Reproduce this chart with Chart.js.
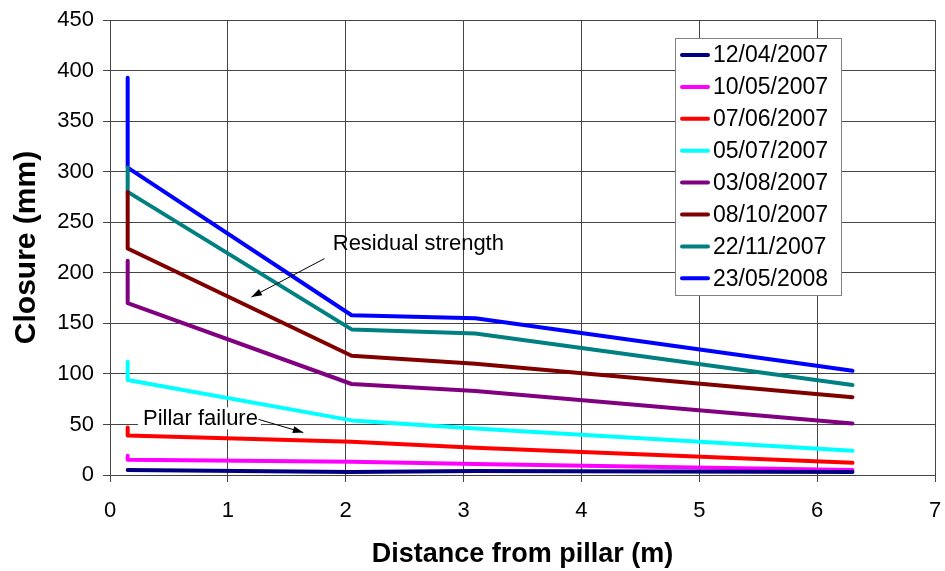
<!DOCTYPE html>
<html>
<head>
<meta charset="utf-8">
<script src="https://cdn.jsdelivr.net/npm/chart.js@4.4.1/dist/chart.umd.min.js"></script>
<style>
  html, body { margin: 0; padding: 0; background: #fff; }
  #wrap { width: 945px; height: 571px; position: relative; }
</style>
</head>
<body>
<div id="wrap"><canvas id="myChart" width="945" height="571"></canvas></div>
<script>
// Data
const distances = [0.15, 0.15, 2.05, 3.1, 6.3];
const dates = ["12/04/2007", "10/05/2007", "07/06/2007", "05/07/2007",
               "03/08/2007", "08/10/2007", "22/11/2007", "23/05/2008"];
const closure_12_04_2007 = [5, 5, 3, 4, 3];
const closure_10_05_2007 = [19, 15, 13, 11, 5];
const closure_07_06_2007 = [47, 39, 33, 27, 12];
const closure_05_07_2007 = [112, 94, 54, 46, 24];
const closure_03_08_2007 = [212, 170, 90, 83, 51];
const closure_08_10_2007 = [280, 224, 118, 110, 77];
const closure_22_11_2007 = [304, 280, 144, 140, 89];
const closure_23_05_2008 = [393, 304, 158, 155, 103];
const xTicks = [0, 1, 2, 3, 4, 5, 6, 7];
const yTicks = [0, 50, 100, 150, 200, 250, 300, 350, 400, 450];

const series = [closure_12_04_2007, closure_10_05_2007, closure_07_06_2007, closure_05_07_2007,
                closure_03_08_2007, closure_08_10_2007, closure_22_11_2007, closure_23_05_2008];
const colors = ["#000080", "#FF00FF", "#FF0000", "#00FFFF",
                "#800080", "#800000", "#008080", "#0000FF"];

const FONT = "'Liberation Sans', Arial, sans-serif";

// Legend drawn inside the plot, like the original
const boxLegend = {
    id: "boxLegend",
    afterDraw(chart) {
        const ctx = chart.ctx;
        const left = 675, top = 38, w = 166, h = 257;
        ctx.save();
        ctx.fillStyle = "#fff";
        ctx.fillRect(left, top, w, h);
        ctx.strokeStyle = "#808080";
        ctx.lineWidth = 1;
        ctx.strokeRect(left + 0.5, top + 0.5, w, h);
        ctx.font = "23px " + FONT;
        ctx.textBaseline = "middle";
        chart.data.datasets.forEach((ds, i) => {
            const y = top + 17 + i * 31.9;
            ctx.strokeStyle = ds.borderColor;
            ctx.lineWidth = 4;
            ctx.lineCap = "round";
            ctx.beginPath();
            ctx.moveTo(left + 7, y);
            ctx.lineTo(left + 33, y);
            ctx.stroke();
            ctx.fillStyle = "#000";
            ctx.fillText(ds.label, left + 38, y + 1);
        });
        ctx.restore();
    }
};

// Text notes with arrows (positions in data units)
const notes = [
    { text: "Residual strength", tx: 1.89, ty: 229, from: [1.82, 214], to: [1.2, 176], bg: false },
    { text: "Pillar failure", tx: 0.28, ty: 55, from: [1.26, 55], to: [1.64, 42], bg: true }
];

function arrow(ctx, x1, y1, x2, y2) {
    ctx.beginPath();
    ctx.moveTo(x1, y1);
    ctx.lineTo(x2, y2);
    ctx.stroke();
    const a = Math.atan2(y2 - y1, x2 - x1);
    const len = 11, spread = 0.33;
    ctx.beginPath();
    ctx.moveTo(x2, y2);
    ctx.lineTo(x2 - len * Math.cos(a - spread), y2 - len * Math.sin(a - spread));
    ctx.lineTo(x2 - len * Math.cos(a + spread), y2 - len * Math.sin(a + spread));
    ctx.closePath();
    ctx.fill();
}

const notePlugin = {
    id: "notePlugin",
    afterDatasetsDraw(chart) {
        const ctx = chart.ctx;
        const xs = chart.scales.x, ys = chart.scales.y;
        ctx.save();
        ctx.font = "22px " + FONT;
        ctx.textBaseline = "middle";
        notes.forEach(n => {
            const px = xs.getPixelForValue(n.tx);
            const py = ys.getPixelForValue(n.ty);
            if (n.bg) {
                const w = ctx.measureText(n.text).width;
                ctx.fillStyle = "#fff";
                ctx.fillRect(px - 5, py - 12, w + 8, 22);
            }
            ctx.fillStyle = "#000";
            ctx.fillText(n.text, px, py);
            ctx.strokeStyle = "#000";
            ctx.lineWidth = 1;
            arrow(ctx, xs.getPixelForValue(n.from[0]), ys.getPixelForValue(n.from[1]),
                       xs.getPixelForValue(n.to[0]), ys.getPixelForValue(n.to[1]));
        });
        ctx.restore();
    }
};

const ctx = document.getElementById("myChart").getContext("2d");
new Chart(ctx, {
    type: "line",
    data: {
        datasets: series.map((vals, i) => ({
            label: dates[i],
            data: vals.map((v, j) => ({ x: distances[j], y: v })),
            borderColor: colors[i],
            backgroundColor: colors[i],
            borderWidth: 4,
            pointRadius: 0,
            borderCapStyle: "round",
            borderJoinStyle: "round",
            tension: 0,
            fill: false
        }))
    },
    options: {
        responsive: false,
        animation: false,
        layout: { padding: { top: 20, right: 10, left: 0, bottom: 0 } },
        plugins: {
            legend: { display: false },
            tooltip: { enabled: false }
        },
        scales: {
            x: {
                type: "linear",
                min: 0,
                max: 7,
                afterBuildTicks: s => { s.ticks = xTicks.map(v => ({ value: v })); },
                afterFit: s => { s.height = 96; s.paddingLeft = 0; s.paddingRight = 0; },
                grid: { color: "#444", lineWidth: 1, tickLength: 7, tickColor: "#444" },
                border: { color: "#444", width: 1 },
                ticks: { color: "#000", font: { family: FONT, size: 22 }, padding: 16, maxRotation: 0 },
                title: {
                    display: true,
                    text: "Distance from pillar (m)",
                    color: "#000",
                    font: { family: FONT, size: 27, weight: "bold" },
                    padding: { top: 0, bottom: 0 }
                }
            },
            y: {
                min: 0,
                max: 450,
                afterBuildTicks: s => { s.ticks = yTicks.map(v => ({ value: v })); },
                afterFit: s => { s.width = 110; s.paddingTop = 0; s.paddingBottom = 0; },
                grid: { color: "#444", lineWidth: 1, tickLength: 7, tickColor: "#444" },
                border: { color: "#444", width: 1 },
                ticks: { color: "#000", font: { family: FONT, size: 22 }, padding: 9 },
                title: {
                    display: true,
                    text: "Closure (mm)",
                    color: "#000",
                    font: { family: FONT, size: 30, weight: "bold" },
                    padding: { top: 9, bottom: 0 }
                }
            }
        }
    },
    plugins: [notePlugin, boxLegend]
});
</script>
</body>
</html>
